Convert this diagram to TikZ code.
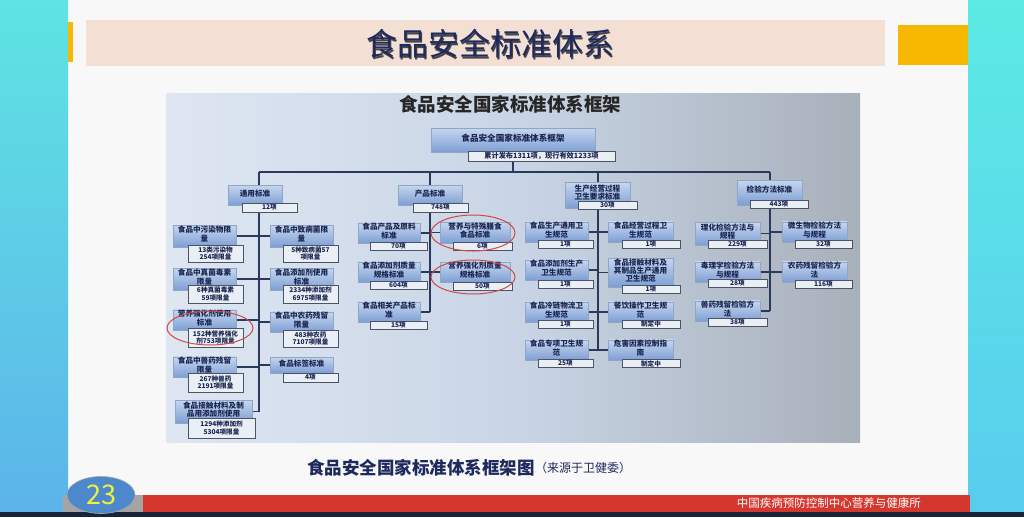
\documentclass[tikz,border=0pt]{standalone}
\usepackage{fontspec}
\setmainfont{Noto Sans CJK SC}
\usetikzlibrary{shapes.geometric}
\pgfdeclarelayer{back}
\pgfdeclarelayer{lines}
\pgfsetlayers{back,lines,main}
\definecolor{slidebg}{HTML}{F8F8F8}
\definecolor{cyanA}{HTML}{5EE4E2}
\definecolor{cyanB}{HTML}{5CB4EA}
\definecolor{cyanC}{HTML}{5CEAE4}
\definecolor{cyanD}{HTML}{58CDEE}
\definecolor{peach}{HTML}{F3DFD4}
\definecolor{gold}{HTML}{F6B800}
\definecolor{navy}{HTML}{1E2A5E}
\definecolor{photoL}{HTML}{DEE6F2}
\definecolor{photoM}{HTML}{C9D5E6}
\definecolor{photoR}{HTML}{A8B0BA}
\definecolor{boxtop}{HTML}{C6D7EE}
\definecolor{boxbot}{HTML}{7D9ED4}
\definecolor{boxedge}{HTML}{8FA6C8}
\definecolor{numfill}{HTML}{EAEFF6}
\definecolor{numedge}{HTML}{4C5464}
\definecolor{txt}{HTML}{1B2550}
\definecolor{linec}{HTML}{2A3A5C}
\definecolor{ringred}{HTML}{D04848}
\definecolor{redbar}{HTML}{D4372E}
\definecolor{darkstrip}{HTML}{18243A}
\definecolor{pagegray}{HTML}{A4A4A4}
\definecolor{pagenum}{HTML}{4D88CC}
\definecolor{pageyellow}{HTML}{EEF23A}
\begin{document}
\begin{tikzpicture}[x=1pt,y=-1pt,
  catbox/.style={draw=boxedge, line width=0.3pt, top color=boxtop, bottom color=boxbot,
    text=txt, font=\fontsize{7.6}{8.3}\selectfont\bfseries, align=center, inner sep=0.5pt, text depth=4.5pt},
  numbox/.style={draw=numedge, line width=0.7pt, fill=numfill, text=txt,
    font=\fontsize{6.6}{7.6}\selectfont\bfseries, align=center, inner sep=0.3pt},
  link/.style={draw=linec, line width=1.3pt},
  ringmark/.style={draw=ringred, line width=1pt, ellipse, fill=none}
]
\useasboundingbox (0,0) rectangle (1024,517);
% ---------- slide background ----------
\begin{pgfonlayer}{back}
\fill[slidebg] (0,0) rectangle (1024,517);
\shade[top color=cyanA, bottom color=cyanB] (0,0) rectangle (68,512);
\shade[top color=cyanC, bottom color=cyanD] (968,0) rectangle (1024,512);
\fill[peach] (86,20) rectangle (885,66);
\fill[gold] (68,22) rectangle (73,62);
\fill[gold] (898,25) rectangle (968,65);
\shade[left color=photoL, right color=photoR, middle color=photoM] (166,93) rectangle (860,442);
\fill[pagegray] (63,495) rectangle (143,512);
\fill[redbar] (143,495) rectangle (970,512);
\fill[darkstrip] (0,512) rectangle (1024,517);
\end{pgfonlayer}
% ---------- slide texts ----------
\node[text=gray!55!black, font=\fontsize{31}{31}\selectfont] (titleshadow) at (491.5,45.5) {食品安全标准体系};
\node[text=navy, font=\fontsize{31}{31}\selectfont] (title) at (490,44) {食品安全标准体系};
\node[text=black!85, font=\fontsize{18.5}{18.5}\selectfont\bfseries] (ptitle) at (510,104) {食品安全国家标准体系框架};
\node[anchor=west, inner sep=0, text=navy, font=\fontsize{17.5}{17.5}\selectfont\bfseries] (cap) at (307,468) {食品安全国家标准体系框架图};
\node[anchor=west, inner sep=0, text=navy, font=\fontsize{12}{12}\selectfont] (capsrc) at (cap.east) {（来源于卫健委）};
\node[anchor=east, inner sep=0, text=white, font=\fontsize{11.5}{11.5}\selectfont] (inst) at (921,503.5) {中国疾病预防控制中心营养与健康所};
\node[ellipse, draw=gray!70, line width=0.6pt, fill=pagenum, minimum width=68, minimum height=37, inner sep=0,
  text=pageyellow, font=\fontsize{27}{27}\selectfont] (pg) at (101,495) {23};
% ---------- tree: root and level 1 ----------
\node[catbox, minimum width=164, minimum height=24, font=\fontsize{8.6}{9.6}\selectfont\bfseries, text depth=5pt] (root) at (513,140) {食品安全国家标准体系框架};
\node[numbox, minimum width=147, minimum height=10, font=\fontsize{7.2}{8}\selectfont\bfseries] (rootnum) at (541.5,156) {累计发布1311项，现行有效1233项};
\node[catbox, minimum width=54, minimum height=20] (g1) at (255,195) {通用标准};
\node[numbox, minimum width=55, minimum height=9] (g1n) at (269.5,207.5) {12项};
\node[catbox, minimum width=64, minimum height=20] (g2) at (430,195) {产品标准};
\node[numbox, minimum width=55, minimum height=9] (g2n) at (440.5,207.5) {748项};
\node[catbox, minimum width=65, minimum height=26, text depth=6pt] (g3) at (597.5,195) {生产经营过程\\卫生要求标准};
\node[numbox, minimum width=59, minimum height=8] (g3n) at (607.5,205.5) {30项};
\node[catbox, minimum width=65, minimum height=25, text depth=7pt] (g4) at (769.5,192.5) {检验方法标准};
\node[numbox, minimum width=58, minimum height=8] (g4n) at (779,204) {443项};
% ---------- group 1 ----------
\node[catbox, minimum width=63, minimum height=22] (a1) at (204.5,236) {食品中污染物限\\量};
\node[numbox, minimum width=55, minimum height=17] (a1n) at (215.5,253.5) {13类污染物\\254项限量};
\node[catbox, minimum width=63, minimum height=22] (a2) at (204.5,279) {食品中真菌毒素\\限量};
\node[numbox, minimum width=55, minimum height=18] (a2n) at (215.5,294) {6种真菌毒素\\59项限量};
\node[catbox, minimum width=63, minimum height=20] (a3) at (204.5,320) {营养强化剂使用\\标准};
\node[numbox, minimum width=55, minimum height=19] (a3n) at (215.5,337.5) {152种营养强化\\剂753项限量};
\node[catbox, minimum width=63, minimum height=20] (a4) at (204.5,367) {食品中兽药残留\\限量};
\node[numbox, minimum width=55, minimum height=19] (a4n) at (215.5,382.5) {267种兽药\\2191项限量};
\node[catbox, minimum width=77, minimum height=23] (a5) at (213.5,411.5) {食品接触材料及制\\品用添加剂使用};
\node[numbox, minimum width=67, minimum height=20] (a5n) at (221.5,428) {1294种添加剂\\5304项限量};
\node[catbox, minimum width=63, minimum height=22] (b1) at (301.5,236) {食品中致病菌限\\量};
\node[numbox, minimum width=55, minimum height=17] (b1n) at (310.5,253.5) {5种致病菌57\\项限量};
\node[catbox, minimum width=63, minimum height=22] (b2) at (301.5,279) {食品添加剂使用\\标准};
\node[numbox, minimum width=55, minimum height=18] (b2n) at (310.5,294) {2334种添加剂\\6975项限量};
\node[catbox, minimum width=63, minimum height=20] (b3) at (301.5,322) {食品中农药残留\\限量};
\node[numbox, minimum width=55, minimum height=17] (b3n) at (310.5,338.5) {483种农药\\7107项限量};
\node[catbox, minimum width=63, minimum height=16, text depth=3pt] (b4) at (301.5,365) {食品标签标准};
\node[numbox, minimum width=55, minimum height=9] (b4n) at (310.5,377.5) {4项};
% ---------- group 2 ----------
\node[catbox, minimum width=62, minimum height=20] (p1) at (389,233) {食品产品及原料\\标准};
\node[numbox, minimum width=57, minimum height=8] (p1n) at (398.5,246.5) {70项};
\node[catbox, minimum width=62, minimum height=20] (p2) at (389,272) {食品添加剂质量\\规格标准};
\node[numbox, minimum width=57, minimum height=8] (p2n) at (398.5,285.5) {604项};
\node[catbox, minimum width=62, minimum height=20] (p3) at (389,312) {食品相关产品标\\准};
\node[numbox, minimum width=57, minimum height=8] (p3n) at (398.5,325.5) {15项};
\node[catbox, minimum width=70, minimum height=21] (q1) at (475,232.5) {营养与特殊膳食\\食品标准};
\node[numbox, minimum width=59, minimum height=8] (q1n) at (482.5,246.5) {6项};
\node[catbox, minimum width=70, minimum height=20] (q2) at (475,272) {营养强化剂质量\\规格标准};
\node[numbox, minimum width=59, minimum height=8] (q2n) at (482.5,286) {50项};
% ---------- group 3 ----------
\node[catbox, minimum width=63, minimum height=20] (r1) at (556.5,232) {食品生产通用卫\\生规范};
\node[numbox, minimum width=55, minimum height=8] (r1n) at (565.5,244) {1项};
\node[catbox, minimum width=63, minimum height=20] (r2) at (556.5,270) {食品添加剂生产\\卫生规范};
\node[numbox, minimum width=55, minimum height=8] (r2n) at (565.5,284) {1项};
\node[catbox, minimum width=63, minimum height=20] (r3) at (556.5,312) {食品冷链物流卫\\生规范};
\node[numbox, minimum width=55, minimum height=8] (r3n) at (565.5,324) {1项};
\node[catbox, minimum width=63, minimum height=20] (r4) at (556.5,350) {食品专项卫生规\\范};
\node[numbox, minimum width=55, minimum height=8] (r4n) at (565.5,363.5) {25项};
\node[catbox, minimum width=65, minimum height=20] (s1) at (640.5,232) {食品经营过程卫\\生规范};
\node[numbox, minimum width=58, minimum height=8] (s1n) at (651,244) {1项};
\node[catbox, minimum width=65, minimum height=29] (s2) at (640.5,272.5) {食品接触材料及\\其制品生产通用\\卫生规范};
\node[numbox, minimum width=58, minimum height=8] (s2n) at (651,289) {1项};
\node[catbox, minimum width=65, minimum height=20] (s3) at (640.5,312) {餐饮操作卫生规\\范};
\node[numbox, minimum width=58, minimum height=8] (s3n) at (651,324) {制定中};
\node[catbox, minimum width=65, minimum height=20] (s4) at (640.5,350) {危害因素控制指\\南};
\node[numbox, minimum width=58, minimum height=8] (s4n) at (651,363.5) {制定中};
% ---------- group 4 ----------
\node[catbox, minimum width=65, minimum height=23] (u1) at (727.5,233.5) {理化检验方法与\\规程};
\node[numbox, minimum width=59, minimum height=8] (u1n) at (737.5,244) {229项};
\node[catbox, minimum width=65, minimum height=20] (u2) at (727.5,272) {毒理学检验方法\\与规程};
\node[numbox, minimum width=59, minimum height=8] (u2n) at (737.5,283.5) {28项};
\node[catbox, minimum width=65, minimum height=19] (u3) at (727.5,311) {兽药残留检验方\\法};
\node[numbox, minimum width=59, minimum height=8] (u3n) at (737.5,322.5) {38项};
\node[catbox, minimum width=65, minimum height=20] (v1) at (814.5,232) {微生物检验方法\\与规程};
\node[numbox, minimum width=57, minimum height=8] (v1n) at (823.5,244) {32项};
\node[catbox, minimum width=65, minimum height=20] (v2) at (814.5,272) {农药残留检验方\\法};
\node[numbox, minimum width=57, minimum height=8] (v2n) at (823.5,284) {116项};
% ---------- red rings ----------
\node[ringmark, minimum width=86, minimum height=34] (ringA) at (210,328) {};
\node[ringmark, minimum width=84, minimum height=36] (ringB) at (473,233) {};
\node[ringmark, minimum width=84, minimum height=34] (ringC) at (473,277) {};
% ---------- connectors ----------
\coordinate (t1) at (259,172); \coordinate (t1e) at (259,411.5);
\coordinate (t2) at (430,172); \coordinate (t2e) at (430,312);
\coordinate (t3) at (598,172); \coordinate (t3e) at (598,350);
\coordinate (t4) at (770,172); \coordinate (t4e) at (770,311);
\begin{pgfonlayer}{lines}
\draw[link] (t1) -- (t4);
\draw[link] (rootnum.south -| root) -- (root |- t1);
\draw[link] (t1) -- (t1e);
\draw[link] (t2) -- (t2e);
\draw[link] (t3) -- (t3e);
\draw[link] (t4) -- (t4e);
\foreach \n in {a1,a2,a3,a4,a5} {\draw[link] (\n.east) -- (\n.east -| t1);}
\foreach \n in {b1,b2,b3,b4} {\draw[link] (\n.west) -- (\n.west -| t1);}
\foreach \n in {p1,p2,p3} {\draw[link] (\n.east) -- (\n.east -| t2);}
\foreach \n in {q1,q2} {\draw[link] (\n.west) -- (\n.west -| t2);}
\foreach \n in {r1,r2,r3,r4} {\draw[link] (\n.east) -- (\n.east -| t3);}
\foreach \n in {s1,s2,s3,s4} {\draw[link] (\n.west) -- (\n.west -| t3);}
\foreach \n in {u1,u2,u3} {\draw[link] (\n.east) -- (\n.east -| t4);}
\foreach \n in {v1,v2} {\draw[link] (\n.west) -- (\n.west -| t4);}
\end{pgfonlayer}
\end{tikzpicture}
\end{document}
